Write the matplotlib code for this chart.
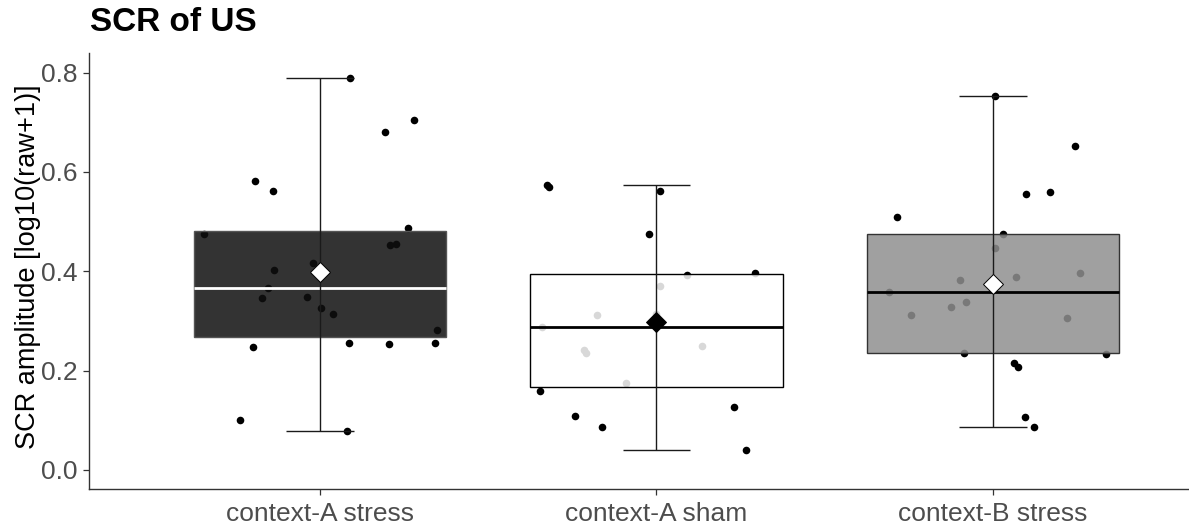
import numpy as np
import matplotlib
matplotlib.use("Agg")
import matplotlib.pyplot as plt
from matplotlib.patches import Rectangle

plt.rcParams['font.family'] = ['Liberation Sans', 'DejaVu Sans']

# data
categories = ["context-A stress", "context-A sham", "context-B stress"]
scr_a_stress = [0.790, 0.705, 0.680, 0.582, 0.562, 0.487, 0.475, 0.456, 0.452,
                0.416, 0.402, 0.367, 0.346, 0.348, 0.326, 0.315, 0.281, 0.253,
                0.256, 0.256, 0.248, 0.101, 0.079]
scr_a_sham = [0.570, 0.573, 0.562, 0.475, 0.397, 0.392, 0.371, 0.315, 0.312,
              0.287, 0.242, 0.250, 0.236, 0.175, 0.160, 0.127, 0.109, 0.087,
              0.040]
scr_b_stress = [0.754, 0.652, 0.556, 0.559, 0.509, 0.476, 0.447, 0.396, 0.383,
                0.388, 0.359, 0.338, 0.329, 0.312, 0.307, 0.236, 0.233, 0.216,
                0.208, 0.107, 0.087]
groups = [scr_a_stress, scr_a_sham, scr_b_stress]

# styling per group
box_fill = ["#0f0f0f", "#ffffff", "#8f8f8f"]
box_edge = ["#555555", "#000000", "#333333"]
median_col = ["white", "black", "black"]
mean_col = ["white", "black", "white"]
BOX_ALPHA = 0.85
BOX_W = 0.75
CAP_W = 0.2

fig = plt.figure(figsize=(11.89, 5.26), dpi=100)
ax = fig.add_axes([89/1189, 1 - 489.3/526, 1 - 89/1189, (489.3 - 53.3)/526])

rng = np.random.default_rng(7)
for i, vals in enumerate(groups):
    pos = i + 1
    vals = np.asarray(vals)
    jit = rng.uniform(-0.35, 0.35, size=len(vals))
    ax.scatter(pos + jit, vals, s=30, color="black", zorder=1, linewidths=0)

    q1, med, q3 = np.percentile(vals, [25, 50, 75])
    lo, hi = vals.min(), vals.max()
    rgb = matplotlib.colors.to_rgb(box_fill[i])
    ax.add_patch(Rectangle((pos - BOX_W/2, q1), BOX_W, q3 - q1,
                           facecolor=(*rgb, BOX_ALPHA), edgecolor=box_edge[i],
                           linewidth=1.0, zorder=2))
    ax.hlines(med, pos - BOX_W/2, pos + BOX_W/2, color=median_col[i],
              linewidth=2.0, zorder=3)
    # full-range error bar
    ax.vlines(pos, lo, hi, color="#1a1a1a", linewidth=1.0, zorder=4)
    ax.hlines([lo, hi], pos - CAP_W/2, pos + CAP_W/2, color="#1a1a1a",
              linewidth=1.0, zorder=4)
    ax.plot(pos, vals.mean(), marker="D", markersize=10, color=mean_col[i],
            markeredgecolor="black", markeredgewidth=0.7, zorder=5)

ax.set_xlim(0.313, 3.583)
ax.set_ylim(-0.0389, 0.839)
ax.set_xticks([1, 2, 3])
ax.set_xticklabels(categories)
ax.set_yticks([0.0, 0.2, 0.4, 0.6, 0.8])
ax.set_yticklabels(["0.0", "0.2", "0.4", "0.6", "0.8"])

for side in ["top", "right"]:
    ax.spines[side].set_visible(False)
for side in ["left", "bottom"]:
    ax.spines[side].set_color("#333333")
    ax.spines[side].set_linewidth(1.0)

ax.tick_params(axis="both", colors="#333333", labelcolor="#4d4d4d",
               labelsize=19, length=4.3, width=0.9)
ax.tick_params(axis="y", pad=4)
ax.tick_params(axis="x", pad=5)

ax.set_ylabel("SCR amplitude [log10(raw+1)]", fontsize=19.5, color="black")
ax.yaxis.set_label_coords(-0.044, 0.511)

fig.text(90/1189, 1 - 31/526, "SCR of US", fontsize=24, fontweight="bold",
         ha="left", va="baseline")

fig.savefig("out.png", dpi=100)
